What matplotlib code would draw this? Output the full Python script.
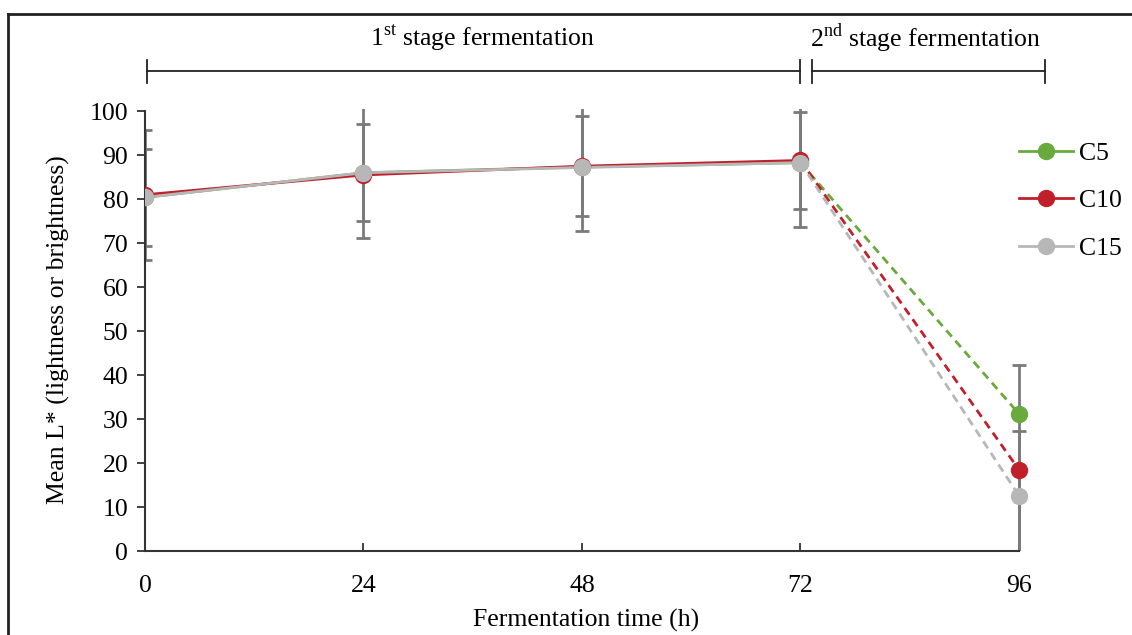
import matplotlib
matplotlib.use("Agg")
import matplotlib.pyplot as plt
from matplotlib.lines import Line2D

plt.rcParams['font.family'] = ['Liberation Serif', 'DejaVu Serif']
plt.rcParams['mathtext.fontset'] = 'custom'
plt.rcParams['mathtext.rm'] = 'Liberation Serif'

# data
hours = [0, 24, 48, 72, 96]
series = ['C5', 'C10', 'C15']
c5 = [80.4, 86.0, 87.3, 88.3, 31.2]
c10 = [81.0, 85.5, 87.5, 88.8, 18.5]
c15 = [80.4, 86.0, 87.2, 88.3, 12.6]
c5_err = [11.0, 11.0, 0.0, 0.0, 0.0]
c10_err = [14.8, 0.0, 11.3, 11.0, 23.8]
c15_err = [0.0, 14.9, 14.4, 14.6, 14.7]
colors = ['#6aaa3c', '#c0202a', '#b7b7b7']

values = [c5, c10, c15]
errs = [c5_err, c10_err, c15_err]
fs = 18.5

fig = plt.figure(figsize=(11.32, 6.35), dpi=100)
ax = fig.add_axes([145/1132, 84/635, (1028-145)/1132, 442/635])

for vals, err, col in zip(values, errs, colors):
    ax.errorbar(hours, vals, yerr=err, fmt='none', ecolor='#7a7a7a',
                elinewidth=2, capsize=5, capthick=2, zorder=2)
for name, vals, col in zip(series, values, colors):
    ax.plot(hours[:4], vals[:4], '-', color=col, lw=2, zorder=3)
    ax.plot(hours[3:], vals[3:], '--', color=col, lw=2, dashes=(3, 2), zorder=3)
    ax.plot(hours, vals, 'o', color=col, ms=11.5, zorder=4)

ax.set_xlim(0, 97)
ax.set_ylim(0, 100.5)
ax.set_xticks(hours)
ax.set_yticks(range(0, 101, 10))
ax.tick_params(axis='x', direction='in', length=6, width=1.3, labelsize=fs, pad=17, color='#333333')
ax.tick_params(axis='y', direction='out', length=6, width=1.3, labelsize=fs, pad=6, color='#333333')
for s in ['top', 'right']:
    ax.spines[s].set_visible(False)
for s in ['left', 'bottom']:
    ax.spines[s].set_color('#333333')
    ax.spines[s].set_linewidth(1.5)
ax.spines['bottom'].set_bounds(0, 96)
ax.spines['left'].set_bounds(0, 100)

ax.set_xlabel('Fermentation time (h)', fontsize=fs, labelpad=9)
ax.set_ylabel('Mean L* (lightness or brightness)', fontsize=fs, labelpad=14)

# stage brackets above the plot
bk = dict(color='#222222', lw=1.3, clip_on=False)
ax.plot([0.2, 72], [109.1, 109.1], **bk)
ax.plot([0.2, 0.2], [106.5, 111.6], **bk)
ax.plot([72, 72], [106.5, 111.6], **bk)
ax.plot([73.3, 73.3], [106.5, 111.6], **bk)
ax.plot([73.3, 98.9], [109.1, 109.1], **bk)
ax.plot([98.9, 98.9], [106.5, 111.6], **bk)
ax.text(37.1, 116.7, '1$^{\\mathrm{st}}$ stage fermentation', ha='center', va='center', fontsize=fs)
ax.text(85.7, 116.7, '2$^{\\mathrm{nd}}$ stage fermentation', ha='center', va='center', fontsize=fs)

handles = [Line2D([], [], color=c, lw=2, marker='o', ms=11.5) for c in colors]
fig.legend(handles, series, loc='upper left', bbox_to_anchor=(1019/1132, 1 - 142/635),
           frameon=False, fontsize=fs, handlelength=2.1, handletextpad=0.25,
           labelspacing=0.95, borderpad=0, borderaxespad=0)

# outer frame (partly cut off)
fig.add_artist(Line2D([8/1132, 1], [1 - 14/635, 1 - 14/635], color='#222222', lw=2))
fig.add_artist(Line2D([8/1132, 8/1132], [0, 1 - 14/635], color='#222222', lw=2))

fig.savefig('out.png', dpi=100)
